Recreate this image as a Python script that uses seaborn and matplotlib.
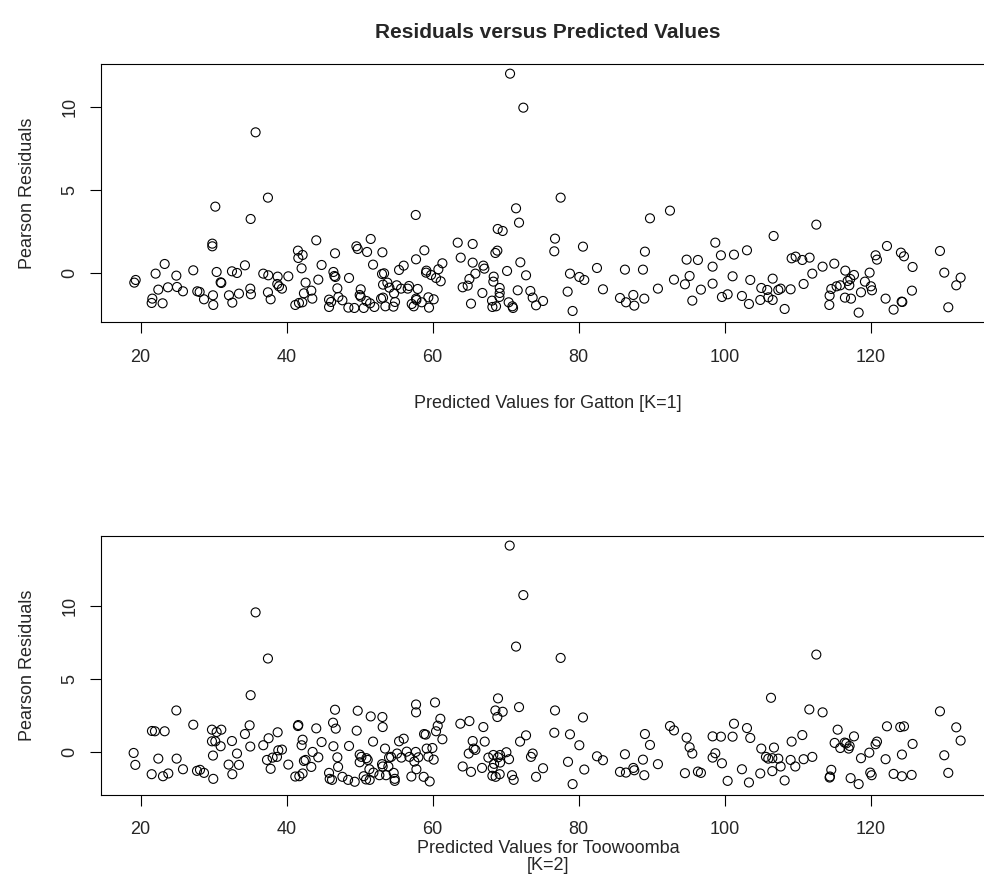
import matplotlib
matplotlib.use("Agg")
import numpy as np
import pandas as pd
import seaborn as sns
import matplotlib.pyplot as plt

# Gatton [K=1]
gatton_pred = [
    19.13, 19.32, 22.05, 23.29, 24.89, 22.42, 23.74, 24.98, 25.80, 21.60,
    21.51, 23.01, 27.21, 27.76, 28.08, 28.68, 29.91, 29.95, 30.41, 30.96,
    31.05, 29.82, 29.82, 30.23, 32.10, 32.56, 32.51, 33.20, 33.47, 34.29,
    35.02, 35.11, 35.07, 35.75, 37.44, 36.80, 37.49, 37.44, 37.81, 38.77,
    38.72, 38.95, 39.36, 40.23, 41.55, 41.60, 42.19, 42.05, 42.60, 42.37,
    43.38, 43.52, 41.19, 41.69, 42.15, 44.06, 44.79, 44.34,
    45.81, 46.09, 45.81, 46.41, 46.54, 46.68, 46.63, 46.95, 47.09, 47.64,
    48.46, 49.28, 48.55, 49.56, 49.74, 51.02, 51.52, 51.84, 50.15, 50.01,
    50.15, 50.56, 50.93, 51.43, 52.02, 53.12, 53.07, 53.35, 53.21, 53.80,
    54.08, 52.94, 53.21, 53.53, 54.63, 54.85, 54.72, 55.08, 55.68, 55.40,
    56.04, 56.59, 56.77, 57.69, 57.73, 57.96, 57.73, 57.14, 57.41, 57.78,
    58.87, 59.15, 59.10, 59.79, 60.47, 60.79, 61.11, 61.34, 58.51, 59.42,
    59.51, 60.15, 63.44, 65.49, 63.85, 65.49, 65.86, 65.04, 64.12, 64.81,
    65.26, 66.95, 67.09, 66.82, 68.37, 68.32, 68.92, 69.60, 68.60, 68.87,
    69.19, 69.19, 69.15, 68.14, 68.19, 68.69, 70.20, 70.61, 72.43, 71.43,
    71.84, 72.02, 72.80, 71.66, 70.42, 70.93, 71.02, 73.39, 73.71, 74.17,
    75.13,
    77.54, 76.77, 76.67, 80.60, 78.82, 80.10, 80.78, 78.50, 79.18, 82.52,
    83.34, 86.35, 85.67, 86.49, 87.50, 87.63, 88.82, 89.09, 89.00, 89.78,
    90.87, 92.52, 93.07, 94.80, 96.35, 95.21, 94.57, 95.58, 96.76, 98.36,
    98.73, 99.50, 98.36, 99.64, 100.42, 101.29, 101.10, 103.07, 103.52, 102.38,
    103.34, 105.03, 104.89,
    106.59, 106.72, 105.85, 105.99, 106.59, 107.36, 107.68, 108.23, 109.05, 109.19,
    109.74, 110.65, 111.65, 110.83, 112.02, 112.57, 113.43, 115.03, 114.62, 114.39,
    114.35, 115.35, 115.85, 116.54, 116.49, 117.32, 116.86, 117.09, 117.22, 117.73,
    118.37, 118.69, 119.23, 119.87, 120.05, 120.19, 120.69, 120.88, 122.25, 122.06,
    123.16, 124.16, 124.58, 124.26, 124.35, 125.76, 125.67, 129.51, 130.10, 131.74,
    132.34, 130.65,
]
gatton_resid = [
    -0.56, -0.40, -0.02, 0.56, -0.14, -0.98, -0.84, -0.82, -1.08, -1.52,
    -1.78, -1.80, 0.18, -1.08, -1.12, -1.56, -1.32, -1.90, 0.08, -0.54,
    -0.58, 1.78, 1.62, 4.00, -1.32, -1.76, 0.12, 0.02, -1.22, 0.48,
    -0.92, -1.26, 3.26, 8.46, 4.54, -0.02, -0.12, -1.14, -1.56, -0.20,
    -0.64, -0.78, -0.92, -0.18, 1.36, 0.92, 1.10, 0.30, -0.56, -1.20,
    -1.04, -1.52, -1.90, -1.78, -1.74, 1.98, 0.50, -0.38,
    -1.58, -1.72, -2.02, 0.08, -0.16, -0.22, 1.20, -0.90, -1.42, -1.62,
    -2.06, -2.08, -0.28, 1.62, 1.46, 1.28, 2.06, 0.52, -0.96, -1.30,
    -1.40, -2.08, -1.66, -1.80, -2.02, 1.26, -0.04, 0.00, -0.68, -0.56,
    -0.86, -1.52, -1.46, -1.98, -2.00, -1.72, -1.20, -0.72, -0.92, 0.20,
    0.46, -0.92, -0.76, 3.50, 0.84, -0.94, -1.52, -1.84, -1.98, -1.60,
    1.38, 0.16, 0.04, -0.10, -0.28, 0.24, -0.48, 0.60, -1.74, -1.44,
    -2.06, -1.56, 1.84, 1.76, 0.94, 0.64, -0.02, -0.34, -0.84, -0.74,
    -1.82, 0.46, 0.28, -1.18, -0.20, -0.50, 2.66, 2.54, 1.22, 1.36,
    -0.88, -1.18, -1.42, -1.64, -2.02, -1.98, 0.14, 11.98, 9.94, 3.90,
    3.04, 0.66, -0.12, -1.02, -1.74, -1.98, -2.08, -1.06, -1.46, -1.92,
    -1.66,
    4.54, 2.08, 1.32, 1.60, -0.02, -0.22, -0.40, -1.10, -2.26, 0.32,
    -0.96, 0.22, -1.48, -1.74, -1.30, -1.94, 0.22, 1.30, -1.52, 3.30,
    -0.92, 3.76, -0.38, 0.82, 0.80, -0.16, -0.66, -1.64, -0.98, 0.40,
    1.84, 1.08, -0.62, -1.42, -1.26, 1.12, -0.18, 1.38, -0.40, -1.36,
    -1.84, -0.88, -1.60,
    -0.32, 2.24, -1.00, -1.44, -1.60, -1.00, -0.92, -2.14, -0.96, 0.90,
    1.00, 0.80, 0.94, -0.64, -0.02, 2.92, 0.40, 0.58, -0.94, -1.34,
    -1.90, -0.78, -0.72, 0.16, -1.46, -1.52, -0.46, -0.72, -0.34, -0.10,
    -2.36, -1.14, -0.50, 0.04, -0.78, -1.02, 1.08, 0.82, 1.64, -1.52,
    -2.18, 1.24, 1.02, -1.70, -1.72, 0.38, -1.04, 1.34, 0.04, -0.72,
    -0.26, -2.04,
]

# Toowoomba [K=2]
toowoomba_pred = [
    19.04, 19.27, 21.55, 21.96, 23.29, 24.89, 22.42, 24.93, 21.51, 23.06,
    23.79, 25.80, 27.21, 27.72, 28.13, 28.68, 29.77, 30.41, 31.05, 29.77,
    30.23, 30.96, 29.91, 29.95, 32.51, 33.20, 32.05, 33.47, 32.56, 34.29,
    34.93, 35.02, 35.07, 35.75, 37.44, 36.80, 37.53, 38.77, 37.31, 37.81,
    38.08, 38.68, 38.86, 39.36, 40.23, 41.55, 41.60, 42.19, 42.05, 42.37,
    42.60, 43.56, 44.34, 43.38, 41.19, 41.74, 42.19, 44.06, 44.79,
    46.63, 46.36, 46.73, 46.41, 46.95, 47.05, 45.81, 45.90, 46.22, 47.64,
    48.42, 49.33, 48.55, 49.74, 49.60, 51.52, 53.12, 53.16, 51.84, 50.01,
    50.24, 50.93, 51.11, 50.01, 51.34, 51.89, 50.56, 50.88, 51.38, 53.48,
    53.07, 53.16, 54.03, 54.31, 53.94, 52.71, 53.62, 54.67, 54.81, 54.81,
    55.40, 56.04, 55.13, 55.72, 56.45, 56.82, 57.73, 57.73, 57.69, 58.05,
    57.50, 57.78, 57.09, 58.78, 59.60, 58.83, 59.05, 59.19, 59.97, 59.42,
    60.15, 60.33, 61.06, 60.70, 60.47, 61.34, 63.80, 65.04, 66.95, 65.49,
    67.14, 65.63, 65.86, 64.95, 64.12, 65.26, 66.77, 68.96, 68.60, 69.60,
    68.87, 67.64, 68.32, 68.96, 69.24, 70.11, 70.47, 68.42, 68.23, 69.24,
    68.19, 68.64, 69.19, 70.88, 71.11, 70.56, 72.43, 71.43, 71.84, 72.80,
    71.98, 73.71, 73.48, 75.13, 74.17,
    77.54, 76.77, 76.67, 80.60, 78.82, 80.10, 78.55, 80.78, 79.18, 82.52,
    83.34, 86.35, 85.67, 86.49, 87.50, 87.63, 89.09, 89.78, 88.82, 89.00,
    90.87, 92.52, 93.07, 94.80, 95.21, 95.58, 94.57, 96.35, 96.76, 98.36,
    99.50, 98.73, 98.36, 99.64, 100.42, 101.29, 101.10, 103.07, 103.52, 102.38,
    103.34, 105.03, 104.89,
    106.36, 106.77, 105.67, 105.99, 106.54, 107.36, 106.54, 107.68, 108.23, 109.05,
    109.69, 109.19, 110.65, 110.83, 112.02, 111.61, 112.57, 113.43, 115.49, 115.08,
    115.85, 116.45, 116.68, 117.00, 117.13, 117.73, 114.62, 114.39, 114.44, 117.27,
    118.37, 118.69, 119.83, 120.69, 120.88, 119.96, 120.15, 122.06, 122.25, 124.07,
    124.58, 125.76, 124.30, 123.16, 124.30, 125.63, 129.51, 131.74, 132.34, 130.10,
    130.65,
]
toowoomba_resid = [
    -0.07, -0.89, 1.44, 1.42, 1.42, 2.85, -0.46, -0.46, -1.53, -1.67,
    -1.48, -1.19, 1.87, -1.30, -1.23, -1.44, 1.53, 1.37, 1.53, 0.73,
    0.73, 0.39, -0.25, -1.85, 0.75, -0.11, -0.87, -0.89, -1.53, 1.23,
    1.83, 0.37, 3.90, 9.59, 6.42, 0.46, 0.94, 1.35, -0.55, -1.16,
    -0.39, -0.34, 0.11, 0.16, -0.87, 1.78, 1.85, 0.84, 0.46, -0.62,
    -0.55, 0.00, -0.37, -1.03, -1.69, -1.67, -1.48, 1.62, 0.68,
    2.90, 2.01, 1.60, 0.39, -0.37, -1.03, -1.44, -1.85, -1.92, -1.71,
    -1.92, -2.05, 0.41, 2.83, 1.46, 2.44, 2.40, 1.71, 0.71, -0.18,
    -0.34, -0.43, -0.55, -0.71, -1.19, -1.42, -1.67, -1.89, -1.92, 0.23,
    -0.84, -1.00, -0.39, -0.34, -1.00, -1.60, -1.60, -1.44, -1.99, -1.85,
    0.73, 0.91, -0.11, -0.39, 0.02, -0.34, 3.26, 2.72, 0.00, -0.37,
    -0.66, -1.19, -1.69, -1.71, -2.03, 1.23, 1.19, 0.23, 0.27, -0.32,
    -0.53, 3.40, 2.28, 1.80, 1.42, 0.87, 1.94, 2.12, 1.71, 0.75,
    0.71, 0.23, 0.14, -0.11, -1.00, -1.37, -1.10, 3.68, 2.85, 2.76,
    2.40, -0.39, -0.21, -0.37, -0.21, -0.02, -0.50, -0.82, -1.10, -0.73,
    -1.64, -1.71, -1.53, -1.60, -1.92, 14.18, 10.78, 7.24, 3.08, 1.14,
    0.71, -0.11, -0.34, -1.12, -1.71,
    6.46, 2.85, 1.32, 2.37, 1.21, 0.46, -0.68, -1.21, -2.21, -0.30,
    -0.57, -0.16, -1.37, -1.42, -1.10, -1.26, 1.23, 0.48, -0.53, -1.60,
    -0.84, 1.78, 1.48, 0.98, 0.32, -0.11, -1.46, -1.35, -1.44, 1.07,
    1.05, -0.09, -0.39, -0.78, -1.99, 1.94, 1.05, 1.64, 0.96, -1.19,
    -2.10, 0.23, -1.48,
    3.72, 0.30, -0.34, -0.46, -0.43, -0.46, -1.32, -1.00, -1.96, -0.55,
    -1.00, 0.71, 1.16, -0.50, -0.34, 2.92, 6.69, 2.72, 1.53, 0.62,
    0.27, 0.64, 0.59, 0.23, 0.41, 1.07, -1.23, -1.76, -1.69, -1.80,
    -2.21, -0.43, -0.05, 0.53, 0.71, -1.42, -1.60, -0.50, 1.76, 1.71,
    1.76, 0.55, -0.18, -1.51, -1.67, -1.58, 2.79, 1.69, 0.78, -0.23,
    -1.44,
]

x_ticks = [20, 40, 60, 80, 100, 120]
y_ticks = [0, 5, 10]

sns.set_style("white")
plt.rcParams["font.family"] = ["Liberation Sans", "DejaVu Sans"]

W, H = 984, 890
fig = plt.figure(figsize=(W / 100, H / 100), dpi=100)


def box(l, t, r, b):
    return [l / W, 1 - b / H, (r - l) / W, (b - t) / H]


ax1 = fig.add_axes(box(100.5, 64, 995, 322.3))
ax2 = fig.add_axes(box(100.5, 536, 995, 795))

panels = [
    (ax1, gatton_pred, gatton_resid, (-2.94, 12.56)),
    (ax2, toowoomba_pred, toowoomba_resid, (-2.96, 14.84)),
]
for ax, xs, ys, ylim in panels:
    df = pd.DataFrame({"pred": xs, "resid": ys})
    sns.scatterplot(data=df, x="pred", y="resid", ax=ax, marker="o", s=42,
                    fc="none", ec="black", linewidth=0.8)
    ax.set_xlim(14.5, 137.05)
    ax.set_ylim(*ylim)
    ax.set_xticks(x_ticks)
    ax.set_yticks(y_ticks)
    ax.set_xlabel("")
    ax.set_ylabel("")
    for sp in ax.spines.values():
        sp.set_visible(True)
        sp.set_color("black")
        sp.set_linewidth(0.8)
    ax.tick_params(direction="out", length=8, width=0.8, color="black",
                   labelsize=13, bottom=True, left=True)
    ax.tick_params(axis="x", pad=11)
    ax.tick_params(axis="y", pad=8, labelrotation=90)
    for lab in ax.get_yticklabels():
        lab.set_va("center")

fig.text(548 / W, 1 - 32 / H, "Residuals versus Predicted Values",
         ha="center", va="center", fontsize=15, fontweight="bold")
fig.text(28 / W, 1 - 193 / H, "Pearson Residuals", rotation=90,
         ha="center", va="center", fontsize=13)
fig.text(28 / W, 1 - 665.5 / H, "Pearson Residuals", rotation=90,
         ha="center", va="center", fontsize=13)
fig.text(548 / W, 1 - 403 / H, "Predicted Values for Gatton [K=1]",
         ha="center", va="center", fontsize=13)
fig.text(548 / W, 1 - 857 / H, "Predicted Values for Toowoomba\n[K=2]",
         ha="center", va="center", fontsize=13, linespacing=1.05)

fig.savefig("out.png", dpi=100)
plt.close("all")
